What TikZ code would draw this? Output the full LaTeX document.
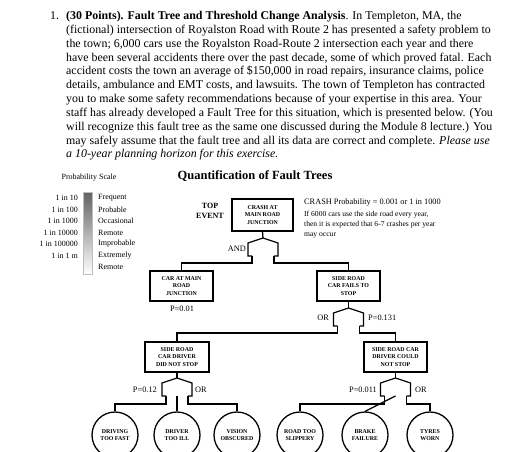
\documentclass[tikz,border=0pt]{standalone}
\usepackage{fontspec}
\setmainfont{Liberation Serif}
\begin{document}
\begin{tikzpicture}[x=1pt,y=-1pt,
  box/.style={draw,line width=1.3pt,minimum width=63pt,minimum height=30pt,inner sep=1pt,align=center,font=\fontsize{5.9}{7.8}\selectfont\bfseries},
  evt/.style={draw,circle,line width=1.3pt,minimum size=46pt,inner sep=0pt,align=center,font=\fontsize{5.9}{7.8}\selectfont\bfseries},
  wire/.style={line width=1.25pt},
  lbl/.style={font=\fontsize{8.3}{10}\selectfont,inner sep=0pt},
  scl/.style={font=\fontsize{8}{10}\selectfont,inner sep=0pt}]
\useasboundingbox (0,0) rectangle (506,452);
\clip (0,0) rectangle (506,452);
\fill[white] (0,0) rectangle (506,452);
% question text
\node[anchor=base west,inner sep=0pt,font=\fontsize{11.9}{13.85}\selectfont] (num) at (50,20) {1.};
\node[anchor=north west,inner sep=0pt,align=left,font=\fontsize{11.9}{13.85}\selectfont] (para) at (66,11)
{\textbf{(30 Points). Fault Tree and Threshold Change Analysis}. In Templeton, MA, the\\
(fictional) intersection of Royalston Road with Route 2 has presented a safety problem to\\
the town; 6,000 cars use the Royalston Road-Route 2 intersection each year and there\\
have been several accidents there over the past decade, some of which proved fatal. Each\\
accident costs the town an average of \$150,000 in road repairs, insurance claims, police\\
details, ambulance and EMT costs, and lawsuits. The town of Templeton has contracted\\
you to make some safety recommendations because of your expertise in this area. Your\\
staff has already developed a Fault Tree for this situation, which is presented below. (You\\
will recognize this fault tree as the same one discussed during the Module 8 lecture.) You\\
may safely assume that the fault tree and all its data are correct and complete. \textit{Please use}\\
\textit{a 10-year planning horizon for this exercise.}};
% titles
\node[font=\fontsize{12.5}{14}\selectfont\bfseries,inner sep=0pt] (title) at (255,176) {Quantification of Fault Trees};
\node[scl] (scaletitle) at (89,178) {Probability Scale};
% scale
\node[draw=black!25,line width=0.6pt,top color=black!62,bottom color=white,minimum width=9pt,minimum height=82pt,inner sep=0pt] (bar) at (87.5,233) {};
\node[scl,anchor=east] (r1) at (78,198) {1 in 10};
\node[scl,anchor=east] (r2) at (78,209.5) {1 in 100};
\node[scl,anchor=east] (r3) at (78,221) {1 in 1000};
\node[scl,anchor=east] (r4) at (78,232.5) {1 in 10000};
\node[scl,anchor=east] (r5) at (78,244) {1 in 100000};
\node[scl,anchor=east] (r6) at (78,255.5) {1 in 1 m};
\node[scl,anchor=west] (s1) at (98,198) {Frequent};
\node[scl,anchor=west] (s2) at (98,209.5) {Probable};
\node[scl,anchor=west] (s3) at (98,221) {Occasional};
\node[scl,anchor=west] (s4) at (98,232.5) {Remote};
\node[scl,anchor=west] (s5) at (98,244) {Improbable};
\node[scl,anchor=west] (s6) at (98,255.5) {Extremely};
\node[scl,anchor=west] (s7) at (98,266.5) {Remote};
% top
\node[font=\fontsize{8}{9.5}\selectfont\bfseries,align=center,inner sep=0pt] (topev) at (210,211) {TOP\\EVENT};
\node[box,minimum width=61pt,minimum height=32pt] (top) at (262.5,215) {CRASH AT\\MAIN ROAD\\JUNCTION};
\node[anchor=west,inner sep=0pt,font=\fontsize{8.3}{10}\selectfont] (crash) at (304,203) {CRASH Probability = 0.001 or 1 in 1000};
\node[anchor=north west,inner sep=0pt,align=left,font=\fontsize{7.6}{10}\selectfont] (note) at (304,210.5) {If 6000 cars use the side road every year,\\then it is expected that 6-7 crashes per year\\may occur};
% boxes
\node[box] (car) at (181.5,286) {CAR AT MAIN\\ROAD\\JUNCTION};
\node[box] (fail) at (348.5,286) {SIDE ROAD\\CAR FAILS TO\\STOP};
\node[box,minimum width=64pt] (didnot) at (177,357) {SIDE ROAD\\CAR DRIVER\\DID NOT STOP};
\node[box] (could) at (395.5,357) {SIDE ROAD CAR\\DRIVER COULD\\NOT STOP};
% basic events
\node[evt] (fast) at (115,435) {DRIVING\\TOO FAST};
\node[evt] (ill) at (177,435) {DRIVER\\TOO ILL};
\node[evt] (vis) at (237,435) {VISION\\OBSCURED};
\node[evt] (slip) at (300,435) {ROAD TOO\\SLIPPERY};
\node[evt] (brake) at (365,435) {BRAKE\\FAILURE};
\node[evt] (tyre) at (430,435) {TYRES\\WORN};
% gates
\foreach \g/\px/\py in {ga/263/238, gb/348.5/308, gc/177/378, gd/395.5/378} {
  \coordinate (\g) at (\px,\py);
  \coordinate (\g l) at (\px-11,\py+18);
  \coordinate (\g m) at (\px,\py+18);
  \coordinate (\g r) at (\px+11,\py+18);
  \draw[wire,line join=miter] (\px-11,\py+18) -- (\px-15,\py+18) -- (\px-15,\py+5) -- (\g) -- (\px+15,\py+5) -- (\px+15,\py+18) -- (\px+11,\py+18);
}
\draw[wire] (top.south) -- (ga);
\draw[wire] (gal) -- ++(0,7) -| (car.north);
\draw[wire] (gar) -- ++(0,7) -| (fail.north);
\draw[wire] (fail.south) -- (gb);
\draw[wire] (gbl) -- ++(0,7) -| (didnot.north);
\draw[wire] (gbr) -- ++(0,7) -| (could.north);
\draw[wire] (didnot.south) -- (gc);
\draw[wire] (gcl) -- ++(0,8) -| (fast.north);
\draw[wire] (gcm) -- (ill.north);
\draw[wire] (gcr) -- ++(0,8) -| (vis.north);
\draw[wire] (could.south) -- (gd);
\draw[wire] (gdl) -- ++(0,8) -| (slip.north);
\draw[wire] (gdm) -- (brake.north);
\draw[wire] (gdr) -- ++(0,8) -| (tyre.north);
% gate labels
\node[lbl,anchor=east] (andl) at (246,249) {AND};
\node[lbl] (p1) at (182,308.5) {P=0.01};
\node[lbl,anchor=east] (or1) at (329,318) {OR};
\node[lbl,anchor=west] (p2) at (368,318) {P=0.131};
\node[lbl,anchor=east] (p3) at (157,390) {P=0.12};
\node[lbl,anchor=west] (or2) at (195,390) {OR};
\node[lbl,anchor=east] (p4) at (377,390) {P=0.011};
\node[lbl,anchor=west] (or3) at (415,390) {OR};
\end{tikzpicture}
\end{document}
